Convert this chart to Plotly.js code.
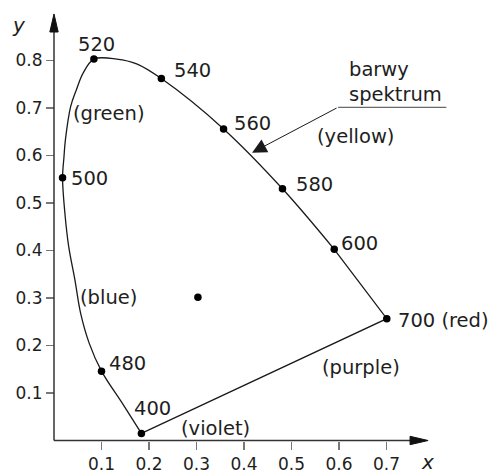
<!DOCTYPE html>
<html>
<head>
<meta charset="utf-8">
<script src="https://cdn.plot.ly/plotly-3.0.1.min.js"></script>
<style>html,body{margin:0;padding:0;background:#fff;}#chart{width:491px;height:474px;}</style>
</head>
<body>
<div id="chart"></div>
<script>
// Spectral locus (from 400 nm up the left side to 600 nm)
const locusX = [0.184, 0.144, 0.100, 0.074, 0.056, 0.044, 0.031, 0.023, 0.018, 0.021, 0.024, 0.035, 0.047, 0.061, 0.084, 0.132, 0.174, 0.226, 0.357, 0.481, 0.590];
const locusY = [0.015, 0.078, 0.146, 0.205, 0.268, 0.338, 0.408, 0.478, 0.553, 0.597, 0.633, 0.703, 0.738, 0.773, 0.803, 0.803, 0.793, 0.762, 0.656, 0.530, 0.4025];

// Marked wavelengths
const wavelengths = ['400', '480', '500', '520', '540', '560', '580', '600', '700'];
const wlX = [0.184, 0.100, 0.018, 0.084, 0.226, 0.357, 0.481, 0.590, 0.7006];
const wlY = [0.015, 0.146, 0.553, 0.803, 0.762, 0.656, 0.530, 0.4025, 0.2565];

// White point
const whiteX = [0.303];
const whiteY = [0.3015];

// Ticks
const xTicks = [0.1, 0.2, 0.3, 0.4, 0.5, 0.6, 0.7];
const yTicks = [0.1, 0.2, 0.3, 0.4, 0.5, 0.6, 0.7, 0.8];

const i600 = wavelengths.indexOf('600'), i700 = wavelengths.indexOf('700'), i400 = wavelengths.indexOf('400');

const lineCol = '#1a1a1a';
const traces = [
  {x: locusX, y: locusY, mode: 'lines', line: {shape: 'spline', smoothing: 1, color: lineCol, width: 1.3}, hoverinfo: 'skip'},
  {x: [wlX[i600], wlX[i700], wlX[i400]], y: [wlY[i600], wlY[i700], wlY[i400]], mode: 'lines', line: {color: lineCol, width: 1.3}, hoverinfo: 'skip'},
  {x: wlX, y: wlY, text: wavelengths, mode: 'markers', marker: {size: 7.5, color: '#000'}},
  {x: whiteX, y: whiteY, mode: 'markers', marker: {size: 7.5, color: '#000'}}
];

const FONT = 'DejaVu Sans';
const lab = (text, x, y, extra) => Object.assign({text: text, x: x, y: y, xref: 'x', yref: 'y', showarrow: false, font: {family: FONT, size: 19.5, color: '#1e1e1e'}, xanchor: 'center', yanchor: 'middle'}, extra || {});

const annotations = [
  lab('520', 0.0886, 0.8337),
  lab('540', 0.291, 0.778),
  lab('560', 0.4185, 0.667),
  lab('580', 0.549, 0.538),
  lab('600', 0.643, 0.415),
  lab('700 (red)', 0.819, 0.253),
  lab('(purple)', 0.6466, 0.1537),
  lab('(violet)', 0.3396, 0.0263),
  lab('400', 0.207, 0.0667),
  lab('480', 0.155, 0.1625),
  lab('(blue)', 0.114, 0.3017),
  lab('500', 0.0754, 0.552),
  lab('(green)', 0.1158, 0.689),
  lab('(yellow)', 0.635, 0.6396),
  lab('barwy<br>spektrum', 0.617, 0.7547, {xanchor: 'left', align: 'left'}),
  {text: '', x: 0.417, y: 0.606, ax: 0.598, ay: 0.7015, xref: 'x', yref: 'y', axref: 'x', ayref: 'y', showarrow: true, arrowhead: 2, arrowsize: 2.9, arrowwidth: 1, arrowcolor: '#1a1a1a'},
  {text: '<i>y</i>', x: -0.0351, y: 0.944, xref: 'paper', yref: 'paper', xanchor: 'center', yanchor: 'middle', showarrow: false, font: {family: FONT, size: 20, color: '#1e1e1e'}},
  {text: '<i>x</i>', x: 0.8618, y: -0.0267, xref: 'paper', yref: 'paper', xanchor: 'center', yanchor: 'middle', showarrow: false, font: {family: FONT, size: 20, color: '#1e1e1e'}}
];

const aw = 0.0088, al = 0.038;
const shapes = [
  {type: 'line', xref: 'x', yref: 'y', x0: 0, y0: 0, x1: 0.76, y1: 0, line: {color: '#333', width: 1.5}},
  {type: 'line', xref: 'x', yref: 'y', x0: 0, y0: 0, x1: 0, y1: 0.87, line: {color: '#333', width: 1.5}},
  {type: 'path', xref: 'x', yref: 'y', path: `M ${0.7876 - al},${-aw} L 0.7876,0 L ${0.7876 - al},${aw} Z`, fillcolor: '#111', line: {color: '#111', width: 1}},
  {type: 'path', xref: 'x', yref: 'y', path: `M ${-aw},${0.898 - al} L 0,0.898 L ${aw},${0.898 - al} Z`, fillcolor: '#111', line: {color: '#111', width: 1}},
  {type: 'line', xref: 'x', yref: 'y', x0: 0.598, y0: 0.7015, x1: 0.826, y1: 0.7015, line: {color: '#444', width: 1}}
];

const layout = {
  width: 491, height: 474,
  margin: {l: 35, r: 0, t: 0, b: 24},
  paper_bgcolor: '#fff', plot_bgcolor: '#fff',
  showlegend: false,
  hovermode: false,
  xaxis: {range: [-0.04, 0.92], tickvals: xTicks, ticktext: xTicks.map(v => v.toFixed(1)), ticks: 'outside', ticklen: 8, tickwidth: 1.3, tickcolor: '#777',
          showgrid: false, zeroline: false, showline: false, anchor: 'free', position: 0.02111, automargin: false,
          tickfont: {family: FONT, size: 17, color: '#1e1e1e'}},
  yaxis: {range: [-0.02, 0.9274], tickvals: yTicks, ticktext: yTicks.map(v => v.toFixed(1)), ticks: 'outside', ticklen: 8, tickwidth: 1.3, tickcolor: '#777',
          showgrid: false, zeroline: false, showline: false, anchor: 'free', position: 0.041667, automargin: false,
          tickfont: {family: FONT, size: 17, color: '#1e1e1e'}},
  annotations: annotations,
  shapes: shapes,
  font: {family: FONT}
};

Plotly.newPlot('chart', traces, layout, {staticPlot: true, displayModeBar: false});
</script>
</body>
</html>
